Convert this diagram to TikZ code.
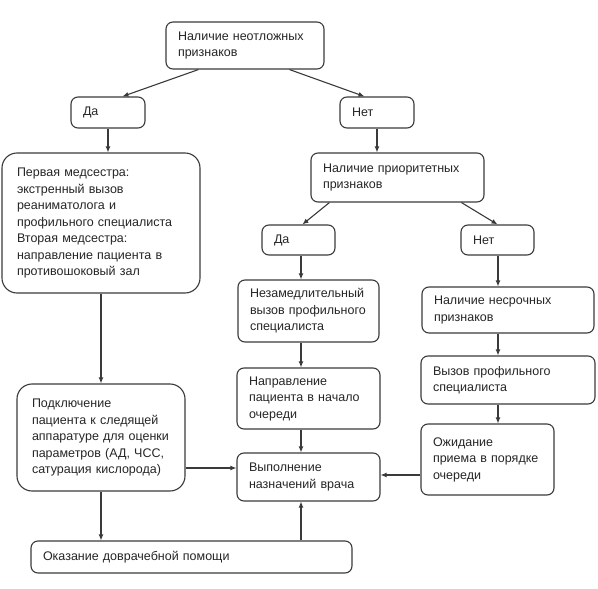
\documentclass[tikz,border=0pt]{standalone}
\usepackage{fontspec}
\setmainfont{Liberation Sans}
\usetikzlibrary{arrows.meta}
\definecolor{ln}{HTML}{3A3A3A}
\definecolor{tx}{HTML}{252525}
\tikzset{
  box/.style n args={2}{draw=ln, line width=1.1pt, rounded corners=7pt,
    text width=#1, minimum height=#2, inner xsep=12pt, inner ysep=2pt,
    align=left, text=tx, font=\fontsize{12.5}{16.5}\selectfont},
  bigbox/.style={rounded corners=15pt, inner xsep=15pt},
  arr/.style={draw=ln, line width=1.1pt, -{Latex[length=6pt,width=5pt]}}
}
\begin{document}
\begin{tikzpicture}[x=1pt,y=-1pt]
\useasboundingbox (0,0) rectangle (598,589);
\coordinate (colB) at (301,0);
\coordinate (colC) at (498,0);
\node[box={134pt}{47pt}] (top) at (245,45.5) {Наличие неотложных\\признаков};
\node[box={50pt}{31pt}] (da1) at (108,112.5) {Да};
\node[box={50pt}{31pt}] (net1) at (377,112.5) {Нет};
\node[box={168pt}{140pt}, bigbox] (big) at (101,223) {Первая медсестра:\\экстренный вызов\\реаниматолога и\\профильного специалиста\\Вторая медсестра:\\направление пациента в\\противошоковый зал};
\node[box={149pt}{49pt}] (prior) at (397.5,177.5) {Наличие приоритетных\\признаков};
\node[box={49pt}{30pt}] (da2) at (298.5,240) {Да};
\node[box={49pt}{30pt}] (net2) at (497.5,240) {Нет};
\node[box={117pt}{62pt}] (nezam) at (308.5,311) {Незамедлительный\\вызов профильного\\специалиста};
\node[box={148pt}{46pt}] (nesroch) at (508,310) {Наличие несрочных\\признаков};
\node[box={150pt}{48pt}] (vyzov) at (508,380) {Вызов профильного\\специалиста};
\node[box={119pt}{61pt}] (naprav) at (308.5,398.5) {Направление\\пациента в начало\\очереди};
\node[box={109pt}{71pt}] (ozhid) at (487.5,459.5) {Ожидание\\приема в порядке\\очереди};
\node[box={138pt}{107pt}, bigbox] (podkl) at (101,437.5) {Подключение\\пациента к следящей\\аппаратуре для оценки\\параметров (АД, ЧСС,\\сатурация кислорода)};
\node[box={119pt}{48pt}] (vypoln) at (308.5,477) {Выполнение\\назначений врача};
\node[box={297pt}{32pt}] (okaz) at (191.5,557) {Оказание доврачебной помощи};

\draw[arr] ([xshift=33pt]top.south west) -- ([xshift=52pt]da1.north west);
\draw[arr] ([xshift=124pt]top.south west) -- ([xshift=25pt]net1.north west);
\draw[arr] (da1.south) -- (da1.south |- big.north);
\draw[arr] (net1.south) -- (net1.south |- prior.north);
\draw[arr] ([xshift=19pt]prior.south west) -- ([xshift=41pt]da2.north west);
\draw[arr] ([xshift=151pt]prior.south west) -- (net2.north);
\draw[arr] (colB |- da2.south) -- (colB |- nezam.north);
\draw[arr] (colC |- net2.south) -- (colC |- nesroch.north);
\draw[arr] (colC |- nesroch.south) -- (colC |- vyzov.north);
\draw[arr] (colC |- vyzov.south) -- (colC |- ozhid.north);
\draw[arr] (colB |- nezam.south) -- (colB |- naprav.north);
\draw[arr] (colB |- naprav.south) -- (colB |- vypoln.north);
\draw[arr] (big.south) -- (big.south |- podkl.north);
\draw[arr] ([yshift=-30.5pt]podkl.east) -- ([yshift=-30.5pt]podkl.east -| vypoln.west);
\draw[arr] ([yshift=-15.5pt]ozhid.west) -- ([yshift=-15.5pt]ozhid.west -| vypoln.east);
\draw[arr] (podkl.south) -- (podkl.south |- okaz.north);
\draw[arr] (colB |- okaz.north) -- (colB |- vypoln.south);
\end{tikzpicture}
\end{document}
